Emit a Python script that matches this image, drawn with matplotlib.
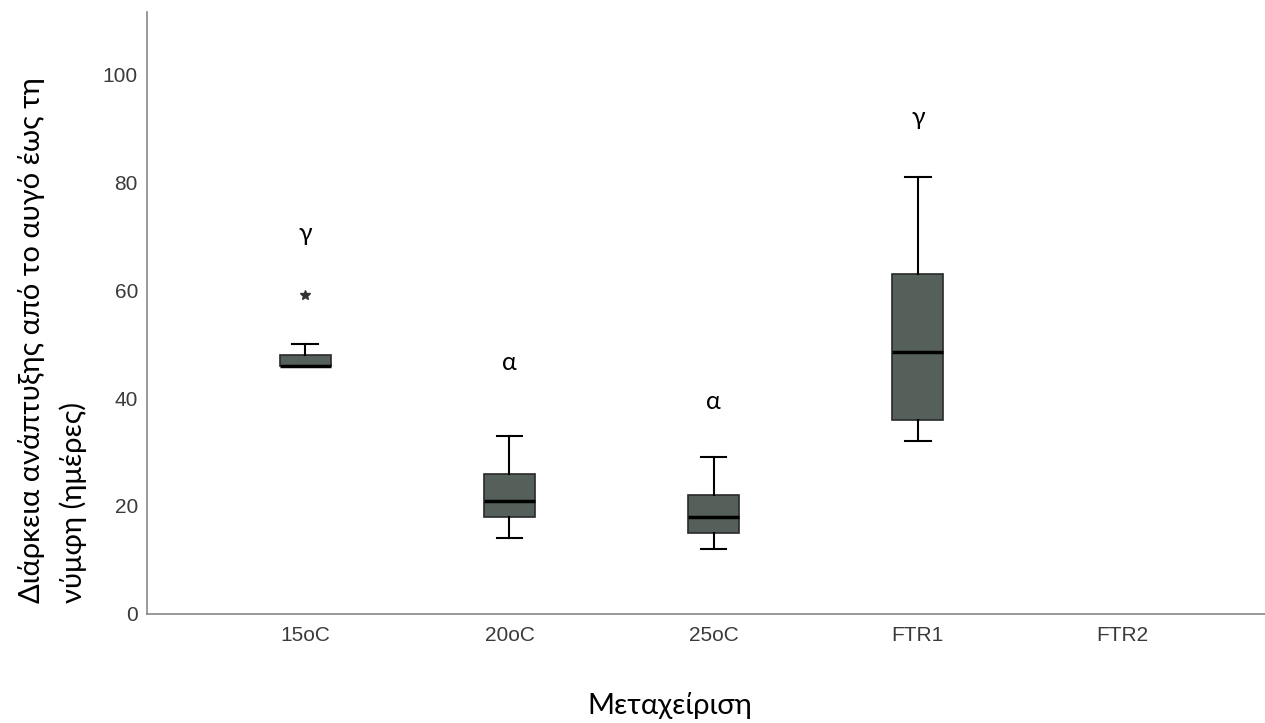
import matplotlib.pyplot as plt

categories = ["15oC", "20oC", "25oC", "FTR1", "FTR2"]
lower_whisker = [46, 14, 12, 32]
q1 = [46, 18, 15, 36]
median = [46, 21, 18, 48.5]
q3 = [48, 26, 22, 63]
upper_whisker = [50, 33, 29, 81]
outliers = [[59], [], [], []]
letters = ["γ", "α", "α", "γ"]
letter_y = [70.5, 46.5, 39.3, 92]

fig = plt.figure(figsize=(12.65, 7.23), dpi=100)
ax = fig.add_axes([0.1162, 0.1508, 0.8838, 0.8326])

stats = []
for i in range(len(q1)):
    stats.append({
        "whislo": lower_whisker[i], "q1": q1[i], "med": median[i],
        "q3": q3[i], "whishi": upper_whisker[i], "fliers": outliers[i],
    })

ax.bxp(stats, positions=range(len(q1)), widths=0.25, patch_artist=True,
       boxprops=dict(facecolor="#56605a", edgecolor="#2a2a2a", linewidth=1.2),
       medianprops=dict(color="black", linewidth=2.5),
       whiskerprops=dict(color="black", linewidth=1.5),
       capprops=dict(color="black", linewidth=1.5),
       flierprops=dict(marker="*", markersize=7, markerfacecolor="#333333",
                       markeredgecolor="#333333"))

for i, (t, y) in enumerate(zip(letters, letter_y)):
    ax.text(i, y, t, ha="center", va="center", fontsize=18, family="Lato")

ax.set_xlim(-0.775, 4.7)
ax.set_ylim(0, 111.5)
ax.set_xticks(range(len(categories)))
ax.set_xticklabels(categories)
ax.set_yticks([0, 20, 40, 60, 80, 100])
for lbl in ax.get_xticklabels() + ax.get_yticklabels():
    lbl.set_family("Liberation Sans")
ax.tick_params(length=0, labelsize=15, labelcolor="#3a3a3a")
ax.tick_params(axis="y", pad=6.5)
ax.tick_params(axis="x", pad=9)
for s in ["top", "right"]:
    ax.spines[s].set_visible(False)
for s in ["left", "bottom"]:
    ax.spines[s].set_color("#888888")
    ax.spines[s].set_linewidth(1.2)

ax.set_xlabel("Μεταχείριση", fontsize=21, family="Lato")
ax.xaxis.set_label_coords(0.468, -0.13)
ax.set_ylabel("Διάρκεια ανάπτυξης από το αυγό έως τη\nνύμφη (ημέρες)",
              fontsize=21, family="Lato", linespacing=1.6,
              multialignment="left")
ax.yaxis.set_label_coords(-0.054, 0.455)

fig.savefig("out.png", dpi=100)
